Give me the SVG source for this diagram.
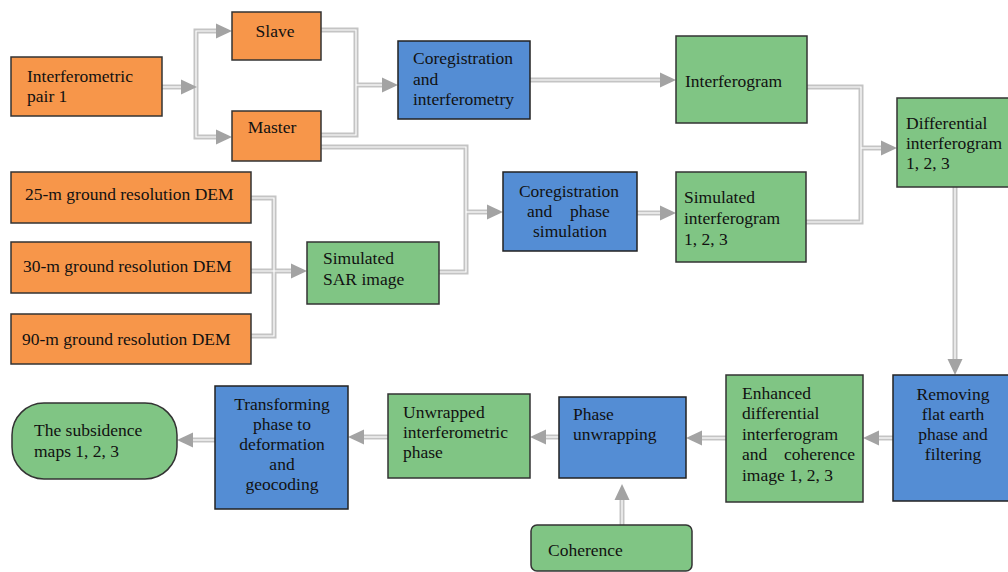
<svg xmlns="http://www.w3.org/2000/svg" xmlns:xlink="http://www.w3.org/1999/xlink" width="1008" height="572" viewBox="0 0 1008 572" font-family="'Liberation Serif', 'DejaVu Serif', serif">
<style>
.o{fill:#F7964A;stroke:#333;stroke-width:1.5}
.b{fill:#548DD4;stroke:#222;stroke-width:1.5}
.g{fill:#80C584;stroke:#333;stroke-width:1.5}
text{font-family:'Liberation Serif','DejaVu Serif',serif;font-size:17.5px;fill:#111}
.m{text-anchor:middle}
.lo{fill:none;stroke:#C4C4C4;stroke-width:5}
.li{fill:none;stroke:#fff;stroke-width:1.2}
.ah{fill:#A3A3A3}
</style>
<defs>
<polygon id="ah" points="0,0 -16,-7.5 -16,7.5"/>
</defs>
<rect width="1008" height="572" fill="#fff"/>
<g id="connectors">
<g class="lo">
<path d="M162,87 H182"/>
<path d="M218,31 H196 V137 H218"/>
<path d="M321,30 H356 V135 H321"/>
<path d="M356,85 H384"/>
<path d="M530,80 H662"/>
<path d="M321,147 H466 V272 H439"/>
<path d="M466,212 H489"/>
<path d="M251,198 H274 V336 H251"/>
<path d="M251,271 H293"/>
<path d="M637,213 H662"/>
<path d="M807,87 H861 V222 H806"/>
<path d="M861,148 H883"/>
<path d="M955,187 V361"/>
<path d="M893,438 H877"/>
<path d="M726,438 H700"/>
<path d="M559,437 H544"/>
<path d="M388,437 H362"/>
<path d="M215,440 H192"/>
<path d="M622,525 V499"/>
</g>
<g class="li">
<path d="M162,87 H181"/>
<path d="M217,31 H196 V137 H217"/>
<path d="M321,30 H356 V135 H321"/>
<path d="M356,85 H383"/>
<path d="M530,80 H661"/>
<path d="M321,147 H466 V272 H439"/>
<path d="M466,212 H488"/>
<path d="M251,198 H274 V336 H251"/>
<path d="M251,271 H292"/>
<path d="M637,213 H661"/>
<path d="M807,87 H861 V222 H806"/>
<path d="M861,148 H882"/>
<path d="M955,187 V360"/>
<path d="M893,438 H878"/>
<path d="M726,438 H701"/>
<path d="M559,437 H545"/>
<path d="M388,437 H363"/>
<path d="M215,440 H193"/>
<path d="M622,525 V500"/>
</g>
<g class="ah">
<use xlink:href="#ah" transform="translate(197,87)"/>
<use xlink:href="#ah" transform="translate(232,31)"/>
<use xlink:href="#ah" transform="translate(232,137)"/>
<use xlink:href="#ah" transform="translate(398,85)"/>
<use xlink:href="#ah" transform="translate(676,80)"/>
<use xlink:href="#ah" transform="translate(503,212)"/>
<use xlink:href="#ah" transform="translate(307,271)"/>
<use xlink:href="#ah" transform="translate(676,213)"/>
<use xlink:href="#ah" transform="translate(897,148)"/>
<use xlink:href="#ah" transform="translate(955,375) rotate(90)"/>
<use xlink:href="#ah" transform="translate(863,438) rotate(180)"/>
<use xlink:href="#ah" transform="translate(686,438) rotate(180)"/>
<use xlink:href="#ah" transform="translate(530,437) rotate(180)"/>
<use xlink:href="#ah" transform="translate(348,437) rotate(180)"/>
<use xlink:href="#ah" transform="translate(177,440) rotate(180)"/>
<use xlink:href="#ah" transform="translate(622,484) rotate(-90)"/>
</g>
</g>
<g id="pair">
<rect class="o" x="11" y="57" width="151" height="59"/>
<text x="27" y="82">Interferometric</text>
<text x="27" y="102">pair 1</text>
</g>
<g id="slave">
<rect class="o" x="232" y="12" width="89" height="48"/>
<text class="m" x="275" y="37">Slave</text>
</g>
<g id="master">
<rect class="o" x="232" y="111" width="89" height="50"/>
<text class="m" x="272" y="133">Master</text>
</g>
<g id="coreg1">
<rect class="b" x="398" y="41" width="132" height="78"/>
<text x="413" y="64">Coregistration</text>
<text x="413" y="85">and</text>
<text x="413" y="105">interferometry</text>
</g>
<g id="interferogram">
<rect class="g" x="676" y="36" width="131" height="87"/>
<text x="685" y="87">Interferogram</text>
</g>
<g id="diff">
<rect class="g" x="897" y="98" width="115" height="89"/>
<text x="906" y="129">Differential</text>
<text x="906" y="149">interferogram</text>
<text x="906" y="169">1, 2, 3</text>
</g>
<g id="dem25">
<rect class="o" x="11" y="172" width="240" height="51"/>
<text x="25" y="200">25-m ground resolution DEM</text>
</g>
<g id="dem30">
<rect class="o" x="11" y="242" width="240" height="51"/>
<text x="23" y="272">30-m ground resolution DEM</text>
</g>
<g id="dem90">
<rect class="o" x="11" y="314" width="240" height="50"/>
<text x="22" y="345">90-m ground resolution DEM</text>
</g>
<g id="simsar">
<rect class="g" x="307" y="242" width="132" height="62"/>
<text x="323" y="264">Simulated</text>
<text x="323" y="285">SAR image</text>
</g>
<g id="coreg2">
<rect class="b" x="503" y="172" width="134" height="79"/>
<text class="m" x="569" y="197">Coregistration</text>
<text x="527" y="217">and</text>
<text x="570" y="217">phase</text>
<text class="m" x="570" y="237">simulation</text>
</g>
<g id="simint">
<rect class="g" x="676" y="172" width="130" height="90"/>
<text x="684" y="203">Simulated</text>
<text x="684" y="224">interferogram</text>
<text x="684" y="245">1, 2, 3</text>
</g>
<g id="removing">
<rect class="b" x="893" y="375" width="120" height="126"/>
<text class="m" x="953" y="400">Removing</text>
<text class="m" x="953" y="420">flat earth</text>
<text class="m" x="953" y="440">phase and</text>
<text class="m" x="953" y="460">filtering</text>
</g>
<g id="enhanced">
<rect class="g" x="726" y="375" width="137" height="127"/>
<text x="742" y="399">Enhanced</text>
<text x="742" y="419">differential</text>
<text x="742" y="440">interferogram</text>
<text x="742" y="460">and</text>
<text x="784" y="460">coherence</text>
<text x="742" y="481">image 1, 2, 3</text>
</g>
<g id="phaseunwrap">
<rect class="b" x="559" y="397" width="127" height="81"/>
<text x="573" y="420">Phase</text>
<text x="573" y="440">unwrapping</text>
</g>
<g id="coherence">
<rect class="g" x="531" y="525" width="161" height="46" rx="6"/>
<text x="548" y="556">Coherence</text>
</g>
<g id="unwrapped">
<rect class="g" x="388" y="394" width="142" height="84"/>
<text x="403" y="418">Unwrapped</text>
<text x="403" y="438">interferometric</text>
<text x="403" y="458">phase</text>
</g>
<g id="transform">
<rect class="b" x="215" y="386" width="133" height="123"/>
<text class="m" x="282" y="410">Transforming</text>
<text class="m" x="282" y="430">phase to</text>
<text class="m" x="282" y="450">deformation</text>
<text class="m" x="282" y="470">and</text>
<text class="m" x="282" y="490">geocoding</text>
</g>
<g id="subsidence">
<rect class="g" x="12" y="403" width="165" height="76" rx="32"/>
<text x="34" y="436">The subsidence</text>
<text x="34" y="457">maps 1, 2, 3</text>
</g>
</svg>
